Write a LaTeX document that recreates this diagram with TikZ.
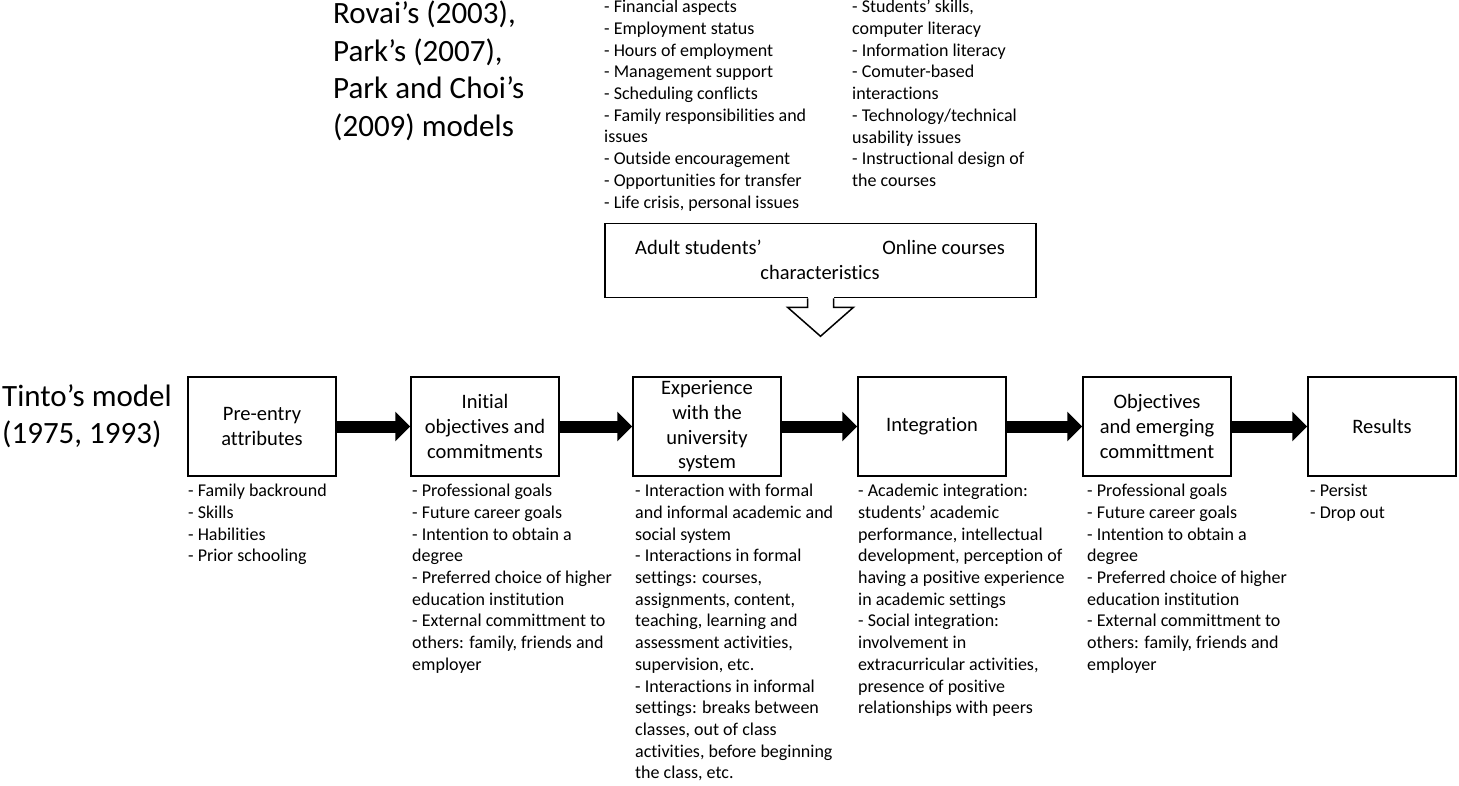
\documentclass[tikz,border=0pt]{standalone}
\usepackage{fontspec}
\setmainfont{Carlito}[Ligatures=NoCommon]
\usetikzlibrary{arrows.meta,calc}
\begin{document}
\begin{tikzpicture}[x=1pt,y=-1pt,
  stagebox/.style={draw,line width=1.5pt,minimum width=148pt,minimum height=99pt,align=center,inner sep=2pt,font=\fontsize{20.5}{24.7}\selectfont},
  listtext/.style={anchor=north west,inner sep=0pt,align=left,font=\fontsize{18}{21.7}\selectfont},
  bigtext/.style={anchor=north west,inner sep=0pt,align=left,font=\fontsize{31}{37.5}\selectfont},
  blockarrow/.style={line width=12pt,-{Triangle[length=15pt,width=29pt]}}]
\useasboundingbox (0,0) rectangle (1459,785);
% titles
\node[bigtext] (rovai) at (333,1) {Rovai’s (2003),\\Park’s (2007),\\Park and Choi’s\\(2009) models};
\node[bigtext] (tinto) at (2,384) {Tinto’s model\\(1975, 1993)};
% top lists
\node[listtext] (adultlist) at (604,0) {- Financial aspects\\- Employment status\\- Hours of employment\\- Management support\\- Scheduling conflicts\\- Family responsibilities and\\issues\\- Outside encouragement\\- Opportunities for transfer\\- Life crisis, personal issues};
\node[listtext] (onlinelist) at (852,0) {- Students’ skills,\\computer literacy\\- Information literacy\\- Comuter-based\\interactions\\- Technology/technical\\usability issues\\- Instructional design of\\the courses};
% top box
\node[draw,line width=1.5pt,minimum width=431pt,minimum height=74pt] (top) at (820.5,260.5) {};
\node[anchor=west,inner sep=0pt,font=\fontsize{20.5}{24.7}\selectfont] (adult) at (635,247) {Adult students’};
\node[anchor=east,inner sep=0pt,font=\fontsize{20.5}{24.7}\selectfont] (online) at (1005,247) {Online courses};
\node[inner sep=0pt,font=\fontsize{20.5}{24.7}\selectfont] (charac) at (820,272) {characteristics};
% open arrow
\fill[white] ($(top.south)+(-13,-2)$) rectangle ($(top.south)+(13,2)$);
\draw[line width=1.5pt,line join=miter] ($(top.south)+(-13,0)$) -- ++(0,9) -- ++(-20,0) -- ($(top.south)+(0,38)$) -- ($(top.south)+(33,9)$) -- ++(-20,0) -- ($(top.south)+(13,0)$);
% stage boxes
\node[stagebox] (pre) at (262,426.5) {Pre-entry\\attributes};
\node[stagebox] (init) at (485,426.5) {Initial\\objectives and\\commitments};
\node[stagebox] (exp) at (707,426.5) {Experience\\with the\\university\\system};
\node[stagebox] (integ) at (932,426.5) {Integration};
\node[stagebox] (obj) at (1157,426.5) {Objectives\\and emerging\\committment};
\node[stagebox] (res) at (1382,426.5) {Results};
% block arrows
\draw[blockarrow] (pre.east) -- (init.west);
\draw[blockarrow] (init.east) -- (exp.west);
\draw[blockarrow] (exp.east) -- (integ.west);
\draw[blockarrow] (integ.east) -- (obj.west);
\draw[blockarrow] (obj.east) -- (res.west);
% bottom lists
\node[listtext] (prelist) at (188,484) {- Family backround\\- Skills\\- Habilities\\- Prior schooling};
\node[listtext] (initlist) at (412,484) {- Professional goals\\- Future career goals\\- Intention to obtain a\\degree\\- Preferred choice of higher\\education institution\\- External committment to\\others: family, friends and\\employer};
\node[listtext] (explist) at (635,484) {- Interaction with formal\\and informal academic and\\social system\\- Interactions in formal\\settings: courses,\\assignments, content,\\teaching, learning and\\assessment activities,\\supervision, etc.\\- Interactions in informal\\settings: breaks between\\classes, out of class\\activities, before beginning\\the class, etc.};
\node[listtext] (integlist) at (858,484) {- Academic integration:\\students’ academic\\performance, intellectual\\development, perception of\\having a positive experience\\in academic settings\\- Social integration:\\involvement in\\extracurricular activities,\\presence of positive\\relationships with peers};
\node[listtext] (objlist) at (1087,484) {- Professional goals\\- Future career goals\\- Intention to obtain a\\degree\\- Preferred choice of higher\\education institution\\- External committment to\\others: family, friends and\\employer};
\node[listtext] (reslist) at (1310,484) {- Persist\\- Drop out};
\end{tikzpicture}
\end{document}
